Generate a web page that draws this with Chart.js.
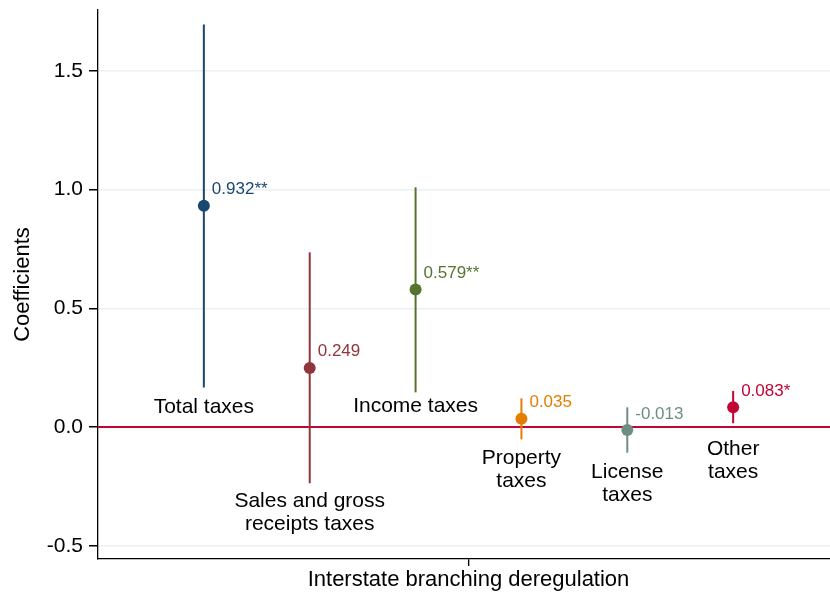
<!DOCTYPE html>
<html>
<head>
<meta charset="utf-8">
<script src="https://cdn.jsdelivr.net/npm/chart.js@4.4.1/dist/chart.umd.min.js"></script>
<style>
  html, body { margin: 0; padding: 0; background: #fff; overflow: hidden; }
  #wrap { width: 845px; height: 597px; }
  canvas { display: block; width: 845px; height: 597px; }
</style>
</head>
<body>
<!-- the plot runs past the right edge of the window, so the canvas is a bit wider -->
<div id="wrap"><canvas id="coefChart" width="845" height="597"></canvas></div>
<script>
// Estimated coefficients with their confidence intervals
const categories = [
    ['Total taxes'],
    ['Sales and gross', 'receipts taxes'],
    ['Income taxes'],
    ['Property', 'taxes'],
    ['License', 'taxes'],
    ['Other', 'taxes']
]
const coefficients = [0.932, 0.249, 0.579, 0.035, -0.013, 0.083]
const ciLow = [0.167, -0.237, 0.146, -0.052, -0.108, 0.016]
const ciHigh = [1.696, 0.736, 1.010, 0.121, 0.083, 0.152]
const stars = ['**', '', '**', '', '', '*']
const yTicks = [-0.5, 0, 0.5, 1.0, 1.5]

const seriesColors = ['#1a476f', '#90353b', '#55752f', '#e37e00', '#6e8e84', '#c10534']
// first baseline of each category caption, in coefficient units
const captionY = [0.060, -0.336, 0.064, -0.156, -0.216, -0.118]

const FONT = '"Liberation Sans", Arial, Helvetica, sans-serif'

const errorBars = categories.map((c, i) => ({
    type: 'line',
    data: [{x: i + 1, y: ciLow[i]}, {x: i + 1, y: ciHigh[i]}],
    borderColor: seriesColors[i],
    borderWidth: 2,
    pointRadius: 0,
    order: 2
}))

const zeroLine = {
    type: 'line',
    data: [{x: 0, y: 0}, {x: 7, y: 0}],
    borderColor: '#c10534',
    borderWidth: 2,
    pointRadius: 0,
    order: 3
}

const points = {
    type: 'scatter',
    data: coefficients.map((c, i) => ({x: i + 1, y: c})),
    pointBackgroundColor: seriesColors,
    pointBorderWidth: 0,
    pointRadius: 6,
    order: 1
}

// value labels next to each dot, captions under each bar
const annotate = {
    id: 'annotate',
    afterDatasetsDraw(chart) {
        const ctx = chart.ctx
        const {x, y} = chart.scales
        ctx.save()
        ctx.textBaseline = 'alphabetic'
        coefficients.forEach((c, i) => {
            const px = x.getPixelForValue(i + 1)
            const py = y.getPixelForValue(c)
            ctx.font = '17px ' + FONT
            ctx.fillStyle = seriesColors[i]
            ctx.textAlign = 'left'
            ctx.fillText(c.toFixed(3) + stars[i], px + 8, py - 11.5)

            ctx.font = '21px ' + FONT
            ctx.fillStyle = '#000'
            ctx.textAlign = 'center'
            const base = y.getPixelForValue(captionY[i])
            categories[i].forEach((line, k) => {
                ctx.fillText(line, px, base + k * 23)
            })
        })
        ctx.restore()
    }
}

// no extra room around the axes for tick labels
const noPad = s => {
    s.paddingTop = 0
    s.paddingBottom = 0
    s.paddingLeft = 0
    s.paddingRight = 0
}

new Chart(document.getElementById('coefChart'), {
    type: 'scatter',
    data: {datasets: [zeroLine, ...errorBars, points]},
    options: {
        responsive: false,
        animation: false,
        layout: {padding: {top: 10, right: 1, bottom: 0, left: 0}},
        plugins: {legend: {display: false}, tooltip: {enabled: false}},
        scales: {
            x: {
                type: 'linear',
                min: 0,
                max: 7,
                afterBuildTicks: s => { s.ticks = [{value: 3.5}] },
                afterFit: s => { s.height = 38; noPad(s) },
                ticks: {display: false},
                grid: {drawOnChartArea: false, tickLength: 7, tickColor: '#000', lineWidth: 1.3},
                border: {color: '#000', width: 1.3},
                title: {
                    display: true,
                    text: 'Interstate branching deregulation',
                    color: '#000',
                    font: {family: FONT, size: 22},
                    padding: {top: 0, bottom: 3.8}
                }
            },
            y: {
                min: -0.556,
                max: 1.757,
                afterBuildTicks: s => { s.ticks = yTicks.map(v => ({value: v})) },
                afterFit: s => { s.width = 98; noPad(s) },
                ticks: {
                    color: '#000',
                    font: {family: FONT, size: 21},
                    padding: 6,
                    callback: v => v.toFixed(1)
                },
                grid: {color: '#eaf0f3', lineWidth: 1.5, tickLength: 9, tickColor: '#000'},
                border: {color: '#000', width: 1.3},
                title: {
                    display: true,
                    text: 'Coefficients',
                    color: '#000',
                    font: {family: FONT, size: 22},
                    padding: {top: 10, bottom: 0}
                }
            }
        }
    },
    plugins: [annotate]
})
</script>
</body>
</html>
